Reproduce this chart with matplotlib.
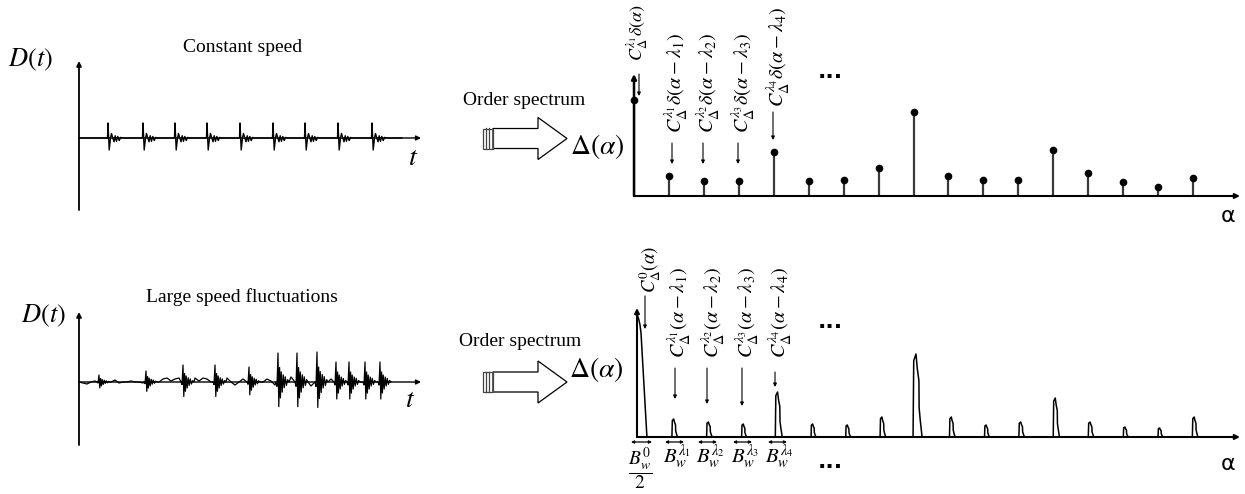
import matplotlib
matplotlib.use('Agg')
import matplotlib.pyplot as plt
from matplotlib.patches import Polygon, Rectangle

plt.rcParams['mathtext.fontset'] = 'stix'

W, H = 1245, 494

# ---- data ----
# constant speed signal: pulse positions (px from the y axis) and amplitudes
const_pos = [29, 64, 96, 128, 161, 194, 226, 259, 293]
const_amp = [15, 15, 15, 15, 15, 15, 15, 15, 15]
const_end = 323
const_dt = [-0.5, 0, 1.2, 2.5, 3.5, 4.6, 6.0, 7.2, 8.4, 9.8, 11.2, 12.6, 14]
const_shape = [0, 1.0, -0.8, 0.0, 0.3, 0.05, -0.25, 0.15, -0.22, 0.1, -0.17, 0.04, 0]

# large speed fluctuations signal
fluct_pos = [20, 67, 104, 136, 170, 199, 218, 238, 257, 270, 286, 301]
fluct_amp = [7, 11, 17, 17, 15, 29, 29, 30, 20, 20, 20, 20]
fluct_dt = [-2, -1, 0, 0.8, 1.6, 2.4, 3.2, 4.2, 5.2, 6.2, 7.2, 8.4, 9.6, 11]
fluct_shape = [0, -0.15, 1.0, -0.85, 0.5, -0.55, 0.35, -0.35, 0.25, -0.2, 0.18, -0.12, 0.08, 0]
fluct_end = 311
bg_t = list(range(0, 312, 4))
bg_v = [0, -1, -2, 0, 1, 0, 0, -2, 0, 2, -1, 0, 0, 1, 0, 0, -1, 1, 3, 2,
        0, 3, 4, 1, 3, 4, 1, -2, 3, 4, 1, 4, 3, 0, -3, 3, 1, 4, 0, -3,
        0, 3, 1, 4, 2, -2, 0, 3, 1, -3, 4, -3, 2, 5, -4, 3, -2, 5, -4, 4,
        -3, 4, -5, 3, -3, 4, -4, 3, -4, 4, -3, 4, -4, 3, -4, 4, -3, 1]

# order spectrum, constant speed (stem heights)
orders = list(range(17))
stem_h = [96, 20, 15, 15, 44, 15, 16, 28, 84, 20, 16, 16, 46, 23, 14, 9, 18]

# order spectrum, speed fluctuations (peak heights / half widths)
peak_h = [122, 18, 15, 13, 45, 13, 12, 20, 83, 20, 12, 15, 39, 15, 10, 9, 20]
peak_hw = [0.2, 0.08, 0.08, 0.07, 0.1, 0.07, 0.07, 0.08, 0.13, 0.08, 0.07,
           0.08, 0.09, 0.08, 0.07, 0.07, 0.08]
peak_u = [-1, -0.85, -0.35, -0.05, 0.3, 0.35, 0.6, 1]
peak_v = [0, 0.92, 1.0, 0.82, 0.68, 0.35, 0.2, 0]
peak0_x = [-0.08, -0.08, -0.04, 0.0, 0.03, 0.2]
peak0_v = [0, 1.0, 0.97, 0.92, 0.85, 0]

fig = plt.figure(figsize=(12.45, 4.94), dpi=100)


def px_axes(x0, y0, x1, y1):
    a = fig.add_axes([x0 / W, 1 - y1 / H, (x1 - x0) / W, (y1 - y0) / H])
    a.axis('off')
    a.patch.set_alpha(0)
    return a


def build_signal(pos, amp, dt, shape, bgt, bgv):
    pts = []
    for t, v in zip(bgt, bgv):
        if not any(p + dt[0] <= t <= p + dt[-1] for p in pos):
            pts.append((t, v))
    for p, a in zip(pos, amp):
        for d, s in zip(dt, shape):
            pts.append((p + d, a * s))
    pts.sort()
    return [q[0] for q in pts], [q[1] for q in pts]


# ---- time signals ----
ax1 = px_axes(79, 62, 420, 210)
ax1.set_xlim(0, 341)
ax1.set_ylim(-72, 76)
x, y = build_signal(const_pos, const_amp, const_dt, const_shape, [0, const_end], [0, 0])
ax1.plot(x, y, color='black', lw=1)

ax2 = px_axes(79, 313, 420, 445)
ax2.set_xlim(0, 341)
ax2.set_ylim(-63, 69)
x, y = build_signal(fluct_pos, fluct_amp, fluct_dt, fluct_shape, bg_t, bg_v)
ax2.plot(x, y, color='black', lw=0.9)

# ---- spectra ----
ax3 = px_axes(634, 75, 1237, 196)
ax3.set_xlim(0, 603 / 34.94)
ax3.set_ylim(0, 121)
ax3.vlines(orders, 0, stem_h, color='#3a3a3a', lw=1.6)
ax3.plot(orders, stem_h, 'o', color='black', ms=4.5, clip_on=False)

ax4 = px_axes(637, 309, 1238, 437)
ax4.set_xlim(-3 / 34.87, 601 / 34.87)
ax4.set_ylim(0, 128)
for k, h, hw in zip(orders, peak_h, peak_hw):
    if k == 0:
        ax4.plot(peak0_x, [h * v for v in peak0_v], color='black', lw=1.1)
    else:
        ax4.plot([k + u * hw for u in peak_u], [h * v for v in peak_v],
                 color='black', lw=1.1)

# ---- overlay for annotations ----
ov = fig.add_axes([0, 0, 1, 1])
ov.set_xlim(0, W)
ov.set_ylim(H, 0)
ov.axis('off')
ov.patch.set_alpha(0)


def axis_arrow(x0, y0, x1, y1, lw=1.3):
    ov.annotate('', xy=(x1, y1), xytext=(x0, y0),
                arrowprops=dict(arrowstyle='-|>', color='black', lw=lw,
                                mutation_scale=7, shrinkA=0, shrinkB=0))


def small_arrow(x, y0, y1):
    ov.annotate('', xy=(x, y1), xytext=(x, y0),
                arrowprops=dict(arrowstyle='-|>', color='black', lw=0.8,
                                mutation_scale=5, shrinkA=0, shrinkB=0))


axis_arrow(79, 138, 421, 138, lw=1.0)
axis_arrow(79, 210, 79, 61)
axis_arrow(79, 382, 421, 382, lw=1.0)
axis_arrow(79, 445, 79, 312)
axis_arrow(634, 196, 1240, 196, lw=1.5)
axis_arrow(634, 196, 634, 74, lw=1.8)
axis_arrow(637, 437, 1240, 437, lw=1.5)
axis_arrow(637, 437, 637, 308, lw=1.5)

serif = 'Liberation Serif'
ov.text(8, 60, '$D(t)$', fontsize=19, va='center', ha='left')
ov.text(243, 47, 'Constant speed', fontsize=14, family=serif, ha='center', va='center')
ov.text(413, 157, '$t$', fontsize=20, ha='center', va='center')
ov.text(21, 316, '$D(t)$', fontsize=19, va='center', ha='left')
ov.text(242, 297, 'Large speed fluctuations', fontsize=14, family=serif,
        ha='center', va='center')
ov.text(410, 399, '$t$', fontsize=20, ha='center', va='center')


def block_arrow(cy):
    pts = [(493, cy - 10), (538, cy - 10), (538, cy - 21), (567, cy),
           (538, cy + 21), (538, cy + 10), (493, cy + 10)]
    ov.add_patch(Polygon(pts, closed=True, fill=False, ec='black', lw=0.9))
    ov.add_patch(Rectangle((483, cy - 10), 10, 20, fill=False, ec='#444444', lw=0.9))
    for xx in (486, 489):
        ov.plot([xx, xx], [cy - 10, cy + 10], color='#444444', lw=0.9)


block_arrow(138.5)
block_arrow(382)
ov.text(524, 100, 'Order spectrum', fontsize=14, family=serif, ha='center', va='center')
ov.text(520, 341, 'Order spectrum', fontsize=14, family=serif, ha='center', va='center')
ov.text(597, 146, r'$\Delta(\alpha)$', fontsize=20, ha='center', va='center')
ov.text(596, 369, r'$\Delta(\alpha)$', fontsize=20, ha='center', va='center')

ov.text(1228, 216, 'α', fontsize=16, family='DejaVu Sans', ha='center', va='center')
ov.text(1228, 464, 'α', fontsize=16, family='DejaVu Sans', ha='center', va='center')
for xd, yd in ((830, 72), (830, 322), (830, 462)):
    ov.text(xd, yd, '...', fontsize=16, fontweight='bold', family='DejaVu Sans',
            ha='center', va='center')

# rotated labels, constant speed
lab_fs = 14.5
ov.text(637, 33, r'$C_{\Delta}^{\lambda_1}\delta(\alpha)$', fontsize=13,
        rotation=90, ha='center', va='center')
small_arrow(639, 74, 96)
top_labels = [r'$C_{\Delta}^{\lambda_%d}\delta(\alpha-\lambda_%d)$' % (i, i) for i in range(1, 5)]
top_lx = [676, 708, 743, 778]
top_ly = [83, 83, 83, 57]
top_ax = [672, 703, 738, 773]
top_ay = [(143, 164), (143, 164), (143, 164), (112, 140)]
for lab, lx, ly, axx, (a0, a1) in zip(top_labels, top_lx, top_ly, top_ax, top_ay):
    ov.text(lx, ly, lab, fontsize=lab_fs, rotation=90, ha='center', va='center')
    small_arrow(axx, a0, a1)

# rotated labels, speed fluctuations
ov.text(650, 270, r'$C_{\Delta}^{0}(\alpha)$', fontsize=13.5, rotation=90,
        ha='center', va='center')
small_arrow(645, 296, 329)
bot_labels = [r'$C_{\Delta}^{\lambda_%d}(\alpha-\lambda_%d)$' % (i, i) for i in range(1, 5)]
bot_lx = [679, 713, 747, 780]
bot_ly = [313, 313, 313, 313]
bot_ax = [675, 707, 742, 775]
bot_ay = [(368, 399), (368, 404), (368, 406), (372, 387)]
for lab, lx, ly, axx, (a0, a1) in zip(bot_labels, bot_lx, bot_ly, bot_ax, bot_ay):
    ov.text(lx, ly, lab, fontsize=lab_fs, rotation=90, ha='center', va='center')
    small_arrow(axx, a0, a1)

# bandwidth markers
bw_spans = [(631, 652), (665, 684), (698, 717), (733, 752), (768, 787)]
for x0, x1 in bw_spans:
    ov.annotate('', xy=(x1, 442), xytext=(x0, 442),
                arrowprops=dict(arrowstyle='<|-|>', color='black', lw=0.9,
                                mutation_scale=4, shrinkA=0, shrinkB=0))
ov.text(640, 469, r'$\dfrac{B_w^0}{2}$', fontsize=14, ha='center', va='center')
for i, xl in enumerate([677, 710, 745, 779], start=1):
    ov.text(xl, 457, r'$B_w^{\lambda_%d}$' % i, fontsize=15, ha='center', va='center')

fig.savefig('out.png', dpi=100)
